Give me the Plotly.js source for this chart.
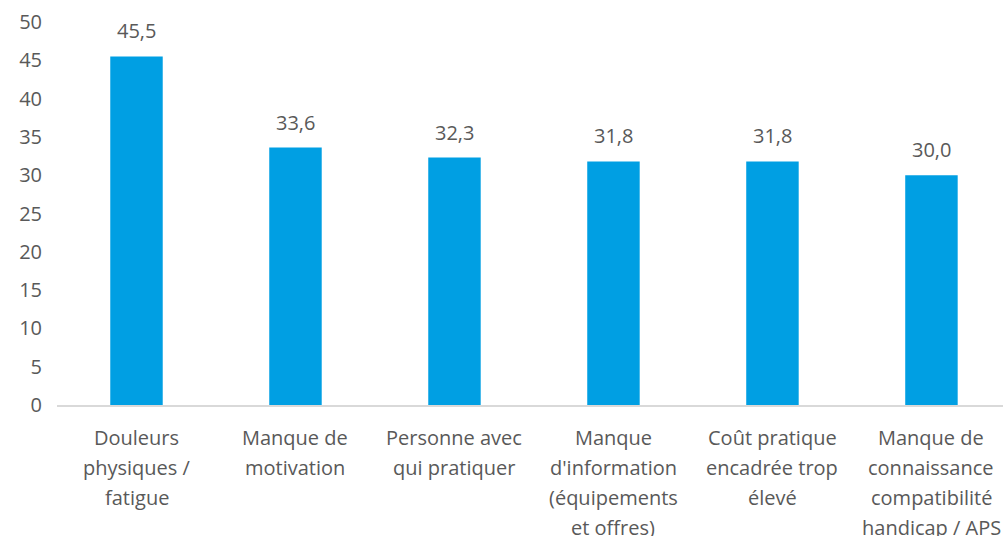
<!DOCTYPE html>
<html>
<head>
<meta charset="utf-8">
<script src="https://cdn.plot.ly/plotly-3.0.1.min.js"></script>
<style>
  html, body { margin: 0; padding: 0; background: #fff; }
  #chart { width: 1003px; height: 536px; }
</style>
</head>
<body>
<div id="chart"></div>
<script>
var categories = [
  "Douleurs<br>physiques /<br>fatigue",
  "Manque de<br>motivation",
  "Personne avec<br>qui pratiquer",
  "Manque<br>d'information<br>(équipements<br>et offres)",
  "Coût pratique<br>encadrée trop<br>élevé",
  "Manque de<br>connaissance<br>compatibilité<br>handicap / APS"
];
var values = [45.5, 33.6, 32.3, 31.8, 31.8, 30.0];
var yTicks = [0, 5, 10, 15, 20, 25, 30, 35, 40, 45, 50];

var textColor = "#595959";
var fontFamily = "Open Sans, sans-serif";

// value labels with French decimal comma
var valueLabels = values.map(function (v) {
  return v.toFixed(1).replace(".", ",");
});

var annotations = [];
values.forEach(function (v, i) {
  annotations.push({
    x: i, y: v, xref: "x", yref: "y",
    text: valueLabels[i],
    showarrow: false, yanchor: "bottom", yshift: 10,
    font: { family: fontFamily, size: 20, color: textColor }
  });
});

// category labels, one annotation per line for Excel-like line spacing
categories.forEach(function (c, i) {
  c.split("<br>").forEach(function (line, j) {
    annotations.push({
      x: i, y: 0, xref: "x", yref: "y",
      text: line,
      showarrow: false, yanchor: "middle", yshift: -32 - j * 30,
      font: { family: fontFamily, size: 20, color: textColor }
    });
  });
});

var data = [{
  type: "bar",
  x: categories.map(function (c, i) { return i; }),
  y: values,
  marker: { color: "#009FE3" },
  hoverinfo: "none"
}];

var layout = {
  width: 1003, height: 536,
  margin: { l: 57, r: 0, t: 22, b: 131 },
  paper_bgcolor: "#ffffff", plot_bgcolor: "#ffffff",
  bargap: 0.67,
  showlegend: false,
  xaxis: {
    range: [-0.5, 5.45],
    showticklabels: false, ticks: "",
    showgrid: false, zeroline: false,
    showline: true, linecolor: "#D9D9D9", linewidth: 1.5
  },
  yaxis: {
    range: [0, 50],
    tickvals: yTicks,
    showgrid: false, zeroline: false, showline: false,
    ticks: "", ticklabelstandoff: 14,
    tickfont: { family: fontFamily, size: 20, color: textColor }
  },
  annotations: annotations
};

Plotly.newPlot("chart", data, layout, { displayModeBar: false, staticPlot: true });
</script>
</body>
</html>
